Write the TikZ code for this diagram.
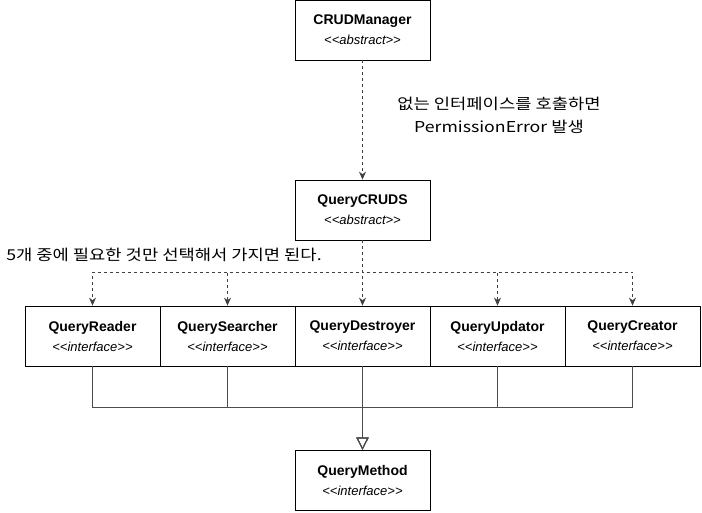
\documentclass[tikz,border=0pt]{standalone}
\usepackage{fontspec}
\setmainfont{Liberation Sans}
\newfontfamily\krfont[FakeStretch=1.18]{Noto Sans CJK KR}
\usetikzlibrary{arrows.meta}

\newcommand{\stereo}[1]{{\itshape\fontsize{13}{15}\selectfont <\kern0pt<#1>\kern0pt>}}

\tikzset{
    classbox/.style={draw, thick, minimum width=135pt, minimum height=60pt,
        align=center, inner sep=0pt, font=\fontsize{14}{20}\selectfont},
    depend/.style={thick, black!75, dash pattern=on 3pt off 3pt,
        -{Stealth[length=8pt, width=7pt]}},
    realize/.style={thick, black!70, -{Triangle[open, length=12pt, width=12pt]}},
    note/.style={align=center, font=\krfont\fontsize{15}{23}\selectfont}
}

\begin{document}
\begin{tikzpicture}[x=1pt, y=-1pt]
        \useasboundingbox (0,0) rectangle (702,512);

        \node[classbox] (manager) at (362.5, 30) {\textbf{CRUDManager}\\\stereo{abstract}};
        \node[classbox] (cruds) at (362.5, 210) {\textbf{QueryCRUDS}\\\stereo{abstract}};

        \node[classbox] (reader) at (92.5, 336) {\textbf{QueryReader}\\\stereo{interface}};
        \node[classbox] (searcher) at (227.5, 336) {\textbf{QuerySearcher}\\\stereo{interface}};
        \node[classbox] (destroyer) at (362.5, 336) {\textbf{QueryDestroyer}\\\stereo{interface}};
        \node[classbox] (updator) at (497.5, 336) {\textbf{QueryUpdator}\\\stereo{interface}};
        \node[classbox] (creator) at (632.5, 336) {\textbf{QueryCreator}\\\stereo{interface}};

        \node[classbox] (method) at (362.5, 480) {\textbf{QueryMethod}\\\stereo{interface}};

        \node[note] (errnote) at (499, 115) {없는 인터페이스를 호출하면\\PermissionError 발생};
        \node[note] (picknote) at (164, 255) {5개 중에 필요한 것만 선택해서 가지면 된다.};

        \draw[depend] (manager) -- (cruds);

        \foreach \q in {reader, searcher, destroyer, updator, creator} {
            \draw[depend] (cruds.south) -- ++(0, 32) -| (\q.north);
            \draw[realize] (\q.south) -- ++(0, 41) -| (method.north);
        }
    \end{tikzpicture}
\end{document}
